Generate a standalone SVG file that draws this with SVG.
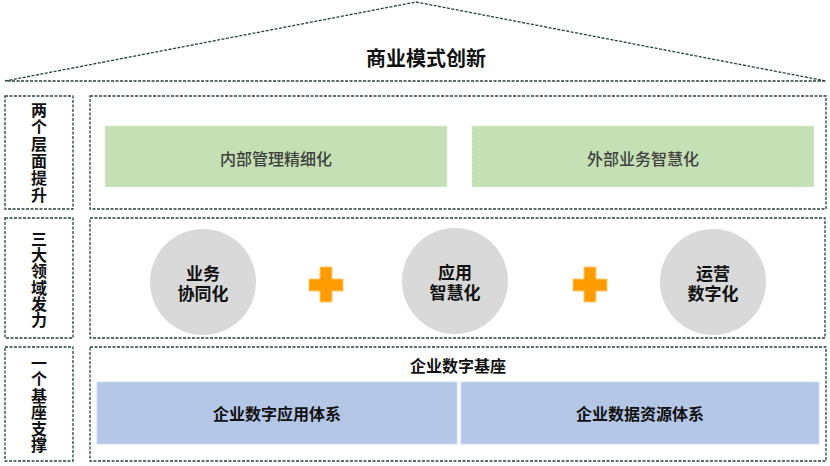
<svg xmlns="http://www.w3.org/2000/svg" width="830" height="466" viewBox="0 0 830 466">
<style>
.dash{fill:none;stroke:#24423f;stroke-width:1.3;stroke-dasharray:3,1.5}
.frame{fill:#ffffff;stroke:#24423f;stroke-width:1.3;stroke-dasharray:3,1.5}
.green{fill:#c5e0b4;stroke:#dcedd0;stroke-width:1;stroke-dasharray:2,2}
.blue{fill:#b4c7e7;stroke:#d0dcf0;stroke-width:1}
.circle{fill:#d9d9d9}
.plus{fill:#ff9c00;stroke:#ffc870;stroke-width:1}
text{font-family:"Noto Sans CJK SC","Noto Sans",sans-serif;text-anchor:middle;dominant-baseline:central}
.t{font-size:20px;font-weight:bold;fill:#111}
.lab{font-size:16px;font-weight:bold;fill:#111;writing-mode:vertical-rl;dominant-baseline:auto}
.g{font-size:16px;font-weight:500;fill:#404040}
.c{font-size:17px;font-weight:bold;fill:#111}
.b{font-size:16px;font-weight:bold;fill:#111}
</style>
<g id="roof">
<polygon class="dash" points="5,81 416,2 826,81"/>
<text class="t" x="426" y="57">商业模式创新</text>
</g>
<g id="row1-label">
<rect class="frame" x="5" y="96" width="68" height="113"/>
<text class="lab" x="39" y="153" style="letter-spacing:1px">两个层面提升</text>
</g>
<g id="row1">
<rect class="frame" x="90" y="96" width="736" height="113"/>
</g>
<g id="internal">
<rect class="green" x="105" y="126" width="342" height="61"/>
<text class="g" x="276" y="158">内部管理精细化</text>
</g>
<g id="external">
<rect class="green" x="472" y="126" width="342" height="61"/>
<text class="g" x="643" y="158">外部业务智慧化</text>
</g>
<g id="row2-label">
<rect class="frame" x="5" y="218" width="68" height="120"/>
<text class="lab" x="39" y="279.5" style="letter-spacing:0.3px">三大领域发力</text>
</g>
<g id="row2">
<rect class="frame" x="90" y="218" width="735" height="120"/>
</g>
<g id="biz">
<circle class="circle" cx="203" cy="282" r="53"/>
<text class="c"><tspan x="203" y="272">业务</tspan><tspan x="203" y="292">协同化</tspan></text>
</g>
<g id="app">
<circle class="circle" cx="455" cy="281" r="53"/>
<text class="c"><tspan x="455" y="271">应用</tspan><tspan x="455" y="291">智慧化</tspan></text>
</g>
<g id="ops">
<circle class="circle" cx="713" cy="282" r="53"/>
<text class="c"><tspan x="713" y="272">运营</tspan><tspan x="713" y="292">数字化</tspan></text>
</g>
<g id="connectors">
<path class="plus" d="M320,267h12v12h11v12h-11v11h-12v-11h-11v-12h11z"/>
<path class="plus" d="M584,267h12v12h11v12h-11v11h-12v-11h-11v-12h11z"/>
</g>
<g id="row3-label">
<rect class="frame" x="5" y="347" width="68" height="114"/>
<text class="lab" x="39" y="404" style="letter-spacing:0.5px">一个基座支撑</text>
</g>
<g id="row3">
<rect class="frame" x="90" y="347" width="736" height="114"/>
<text class="b" x="458" y="365">企业数字基座</text>
</g>
<g id="app-system">
<rect class="blue" x="97" y="382" width="360" height="62"/>
<text class="b" x="277" y="413">企业数字应用体系</text>
</g>
<g id="data-system">
<rect class="blue" x="461" y="382" width="358" height="62"/>
<text class="b" x="640" y="413">企业数据资源体系</text>
</g>
</svg>
